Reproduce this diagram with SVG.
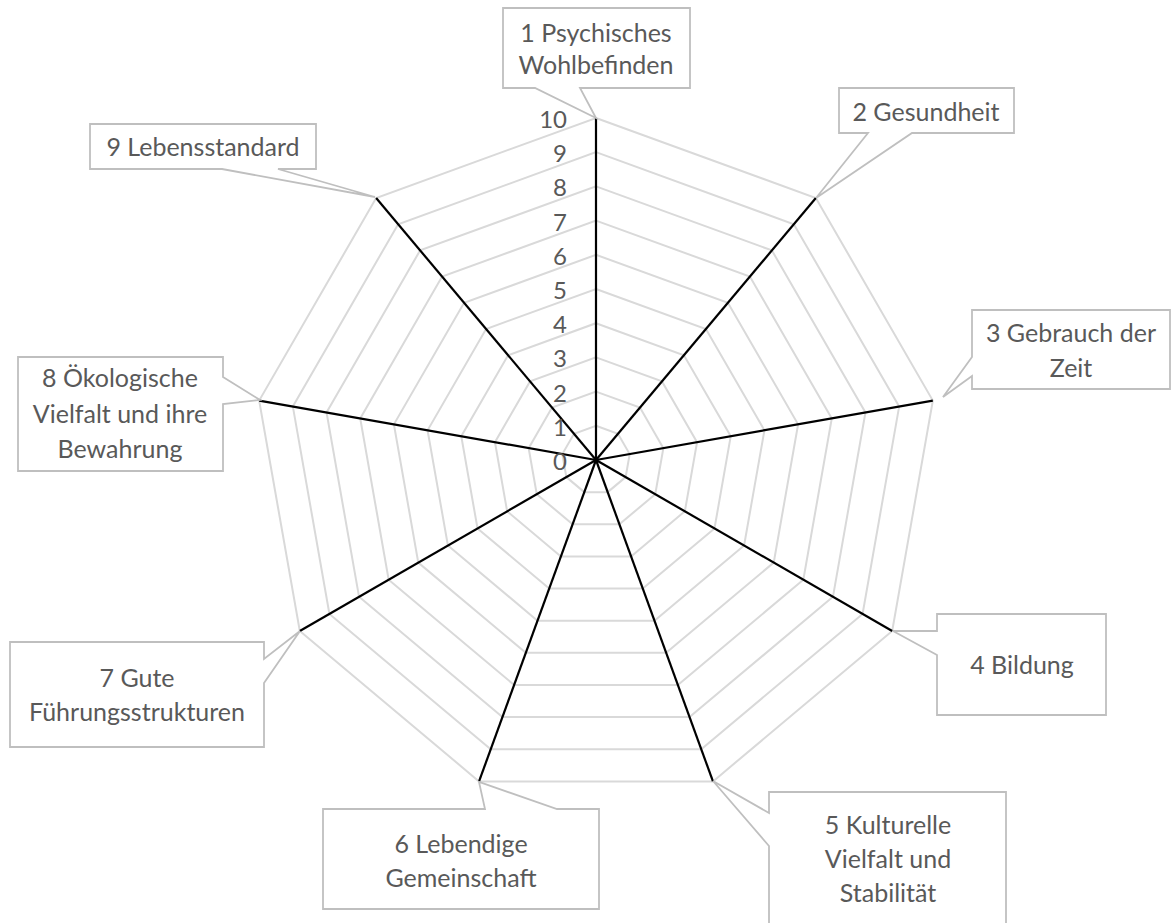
<svg xmlns="http://www.w3.org/2000/svg" width="1171" height="923" viewBox="0 0 1171 923">
<style>
.grid{fill:none;stroke:#d9d9d9;stroke-width:2}
.axis{stroke:#000;stroke-width:2.2}
.box{fill:#fff;stroke:#bfbfbf;stroke-width:1.8}
text{font-family:Lato,"Open Sans","Liberation Sans",sans-serif;font-size:25px;fill:#595959}
.lbl{text-anchor:middle}
.tick{text-anchor:end;font-size:24px}
</style>
<rect width="1171" height="923" fill="#fff"/>
<g id="grid" transform="translate(596,460) scale(1.003)">
<polygon class="grid" points="0,-34.1 21.92,-26.12 33.58,-5.92 29.53,17.05 11.66,32.04 -11.66,32.04 -29.53,17.05 -33.58,-5.92 -21.92,-26.12"/>
<polygon class="grid" points="0,-68.2 43.84,-52.24 67.16,-11.84 59.06,34.1 23.32,64.09 -23.32,64.09 -59.06,34.1 -67.16,-11.84 -43.84,-52.24"/>
<polygon class="grid" points="0,-102.3 65.76,-78.36 100.75,-17.76 88.59,51.15 34.99,96.13 -34.99,96.13 -88.59,51.15 -100.75,-17.76 -65.76,-78.36"/>
<polygon class="grid" points="0,-136.4 87.68,-104.48 134.33,-23.68 118.12,68.2 46.65,128.18 -46.65,128.18 -118.12,68.2 -134.33,-23.68 -87.68,-104.48"/>
<polygon class="grid" points="0,-170.5 109.6,-130.6 167.91,-29.6 147.65,85.25 58.31,160.22 -58.31,160.22 -147.65,85.25 -167.91,-29.6 -109.6,-130.6"/>
<polygon class="grid" points="0,-204.6 131.52,-156.72 201.49,-35.52 177.18,102.3 69.97,192.26 -69.97,192.26 -177.18,102.3 -201.49,-35.52 -131.52,-156.72"/>
<polygon class="grid" points="0,-238.7 153.44,-182.84 235.07,-41.44 206.71,119.35 81.64,224.31 -81.64,224.31 -206.71,119.35 -235.07,-41.44 -153.44,-182.84"/>
<polygon class="grid" points="0,-272.8 175.36,-208.96 268.65,-47.36 236.24,136.4 93.3,256.35 -93.3,256.35 -236.24,136.4 -268.65,-47.36 -175.36,-208.96"/>
<polygon class="grid" points="0,-306.9 197.28,-235.09 302.24,-53.28 265.78,153.45 104.96,288.39 -104.96,288.39 -265.78,153.45 -302.24,-53.28 -197.28,-235.09"/>
<polygon class="grid" points="0,-341 219.19,-261.21 335.82,-59.2 295.31,170.5 116.62,320.44 -116.62,320.44 -295.31,170.5 -335.82,-59.2 -219.19,-261.21"/>
</g>
<g id="connectors" transform="translate(596,460) scale(1.003)">
<line class="axis" x1="0" y1="0" x2="0" y2="-341"/>
<line class="axis" x1="0" y1="0" x2="219.19" y2="-261.21"/>
<line class="axis" x1="0" y1="0" x2="335.82" y2="-59.2"/>
<line class="axis" x1="0" y1="0" x2="295.31" y2="170.5"/>
<line class="axis" x1="0" y1="0" x2="116.62" y2="320.44"/>
<line class="axis" x1="0" y1="0" x2="-116.62" y2="320.44"/>
<line class="axis" x1="0" y1="0" x2="-295.31" y2="170.5"/>
<line class="axis" x1="0" y1="0" x2="-335.82" y2="-59.2"/>
<line class="axis" x1="0" y1="0" x2="-219.19" y2="-261.21"/>
</g>
<g id="ticks">
<text class="tick" x="567" y="470">0</text>
<text class="tick" x="567" y="435.8">1</text>
<text class="tick" x="567" y="401.6">2</text>
<text class="tick" x="567" y="367.4">3</text>
<text class="tick" x="567" y="333.2">4</text>
<text class="tick" x="567" y="299">5</text>
<text class="tick" x="567" y="264.8">6</text>
<text class="tick" x="567" y="230.6">7</text>
<text class="tick" x="567" y="196.4">8</text>
<text class="tick" x="567" y="162.2">9</text>
<text class="tick" x="567" y="128">10</text>
</g>
<g id="label1">
<polygon class="box" points="503,8 690,8 690,88 580,88 596,118 535,88 503,88"/>
<text class="lbl" x="596" y="42">1 Psychisches</text>
<text class="lbl" x="596" y="74">Wohlbefinden</text>
</g>
<g id="label2">
<polygon class="box" points="839,88 1014,88 1014,133 912,133 816,198 868,133 839,133"/>
<text class="lbl" x="926" y="121">2 Gesundheit</text>
</g>
<g id="label3">
<polygon class="box" points="972,310 1170,310 1170,389 972,389 972,376 943,397 972,357"/>
<text class="lbl" x="1071" y="342">3 Gebrauch der</text>
<text class="lbl" x="1071" y="377">Zeit</text>
</g>
<g id="label4">
<polygon class="box" points="937,614 1106,614 1106,715 937,715 937,655 893,631 937,631"/>
<text class="lbl" x="1022" y="674">4 Bildung</text>
</g>
<g id="label5">
<polygon class="box" points="769,792 1006,792 1006,935 769,935 769,846 713,781 769,813"/>
<text class="lbl" x="888" y="834">5 Kulturelle</text>
<text class="lbl" x="888" y="868">Vielfalt und</text>
<text class="lbl" x="888" y="902">Stabilität</text>
</g>
<g id="label6">
<polygon class="box" points="323,809 485,809 479,782 557,809 599,809 599,909 323,909"/>
<text class="lbl" x="461" y="853">6 Lebendige</text>
<text class="lbl" x="461" y="887">Gemeinschaft</text>
</g>
<g id="label7">
<polygon class="box" points="10,642 264,642 264,659 300,631 264,683 264,747 10,747"/>
<text class="lbl" x="137" y="687">7 Gute</text>
<text class="lbl" x="137" y="721">Führungsstrukturen</text>
</g>
<g id="label8">
<polygon class="box" points="18,357 223,357 223,377 260,400 223,404 223,471 18,471"/>
<text class="lbl" x="120" y="387">8 Ökologische</text>
<text class="lbl" x="120" y="423">Vielfalt und ihre</text>
<text class="lbl" x="120" y="458">Bewahrung</text>
</g>
<g id="label9">
<polygon class="box" points="90,124 316,124 316,169 278,169 375,197 222,169 90,169"/>
<text class="lbl" x="203" y="156">9 Lebensstandard</text>
</g>
</svg>
